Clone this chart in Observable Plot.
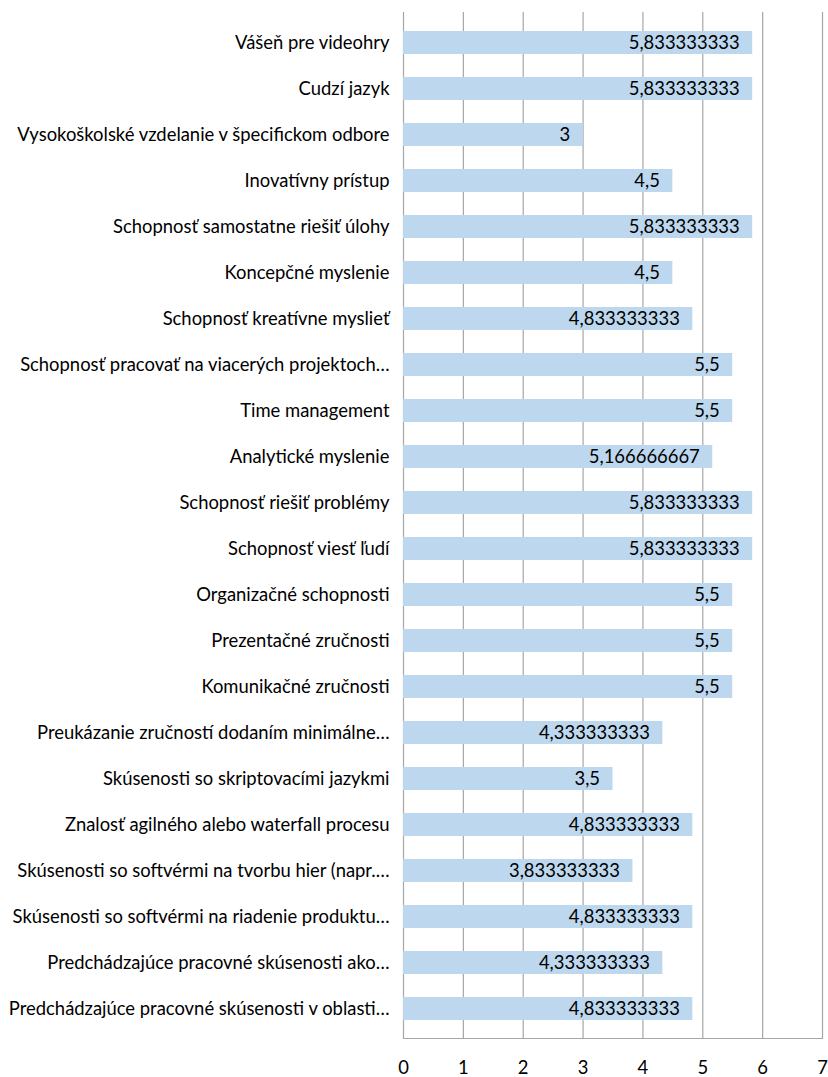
<!DOCTYPE html>
<html>
<head>
<meta charset="utf-8">
<script src="https://cdn.jsdelivr.net/npm/d3@7"></script>
<script src="https://cdn.jsdelivr.net/npm/@observablehq/plot@0.6"></script>
<style>
  html, body { margin: 0; padding: 0; background: #fff; }
  #chart svg { display: block; overflow: visible; }
</style>
</head>
<body>
<div id="chart"></div>
<script>
const categories = [
  "Vášeň pre videohry",
  "Cudzí jazyk",
  "Vysokoškolské vzdelanie v špecifickom odbore",
  "Inovatívny prístup",
  "Schopnosť samostatne riešiť úlohy",
  "Koncepčné myslenie",
  "Schopnosť kreatívne myslieť",
  "Schopnosť pracovať na viacerých projektoch…",
  "Time management",
  "Analytické myslenie",
  "Schopnosť riešiť problémy",
  "Schopnosť viesť ľudí",
  "Organizačné schopnosti",
  "Prezentačné zručnosti",
  "Komunikačné zručnosti",
  "Preukázanie zručností dodaním minimálne…",
  "Skúsenosti so skriptovacími jazykmi",
  "Znalosť agilného alebo waterfall procesu",
  "Skúsenosti so softvérmi na tvorbu hier (napr.…",
  "Skúsenosti so softvérmi na riadenie produktu…",
  "Predchádzajúce pracovné skúsenosti ako…",
  "Predchádzajúce pracovné skúsenosti v oblasti…"
];
const values = [
  5.833333333, 5.833333333, 3, 4.5, 5.833333333, 4.5, 4.833333333, 5.5, 5.5,
  5.166666667, 5.833333333, 5.833333333, 5.5, 5.5, 5.5, 4.333333333, 3.5,
  4.833333333, 3.833333333, 4.833333333, 4.333333333, 4.833333333
];
const valueLabels = [
  "5,833333333", "5,833333333", "3", "4,5", "5,833333333", "4,5", "4,833333333",
  "5,5", "5,5", "5,166666667", "5,833333333", "5,833333333", "5,5", "5,5", "5,5",
  "4,333333333", "3,5", "4,833333333", "3,833333333", "4,833333333",
  "4,333333333", "4,833333333"
];
const xTicks = [0, 1, 2, 3, 4, 5, 6, 7];

const data = categories.map((c, i) => ({category: c, value: values[i], label: valueLabels[i]}));

const fontFamily = "Lato, 'Open Sans', sans-serif";
// fit font size so the longest category label spans about the same width as in the reference
const ctx = document.createElement("canvas").getContext("2d");
ctx.font = `18px ${fontFamily}`;
const longest = d3.max(categories, c => ctx.measureText(c).width);
const fontSize = Math.min(18.7, 18 * 382 / longest);

const grid = "#a6a6a6";
const chart = Plot.plot({
  width: 828,
  height: 1077,
  marginLeft: 403,
  marginRight: 6,
  marginTop: 12,
  marginBottom: 39,
  style: {fontFamily, fontSize: fontSize + "px", color: "#000", background: "#fff"},
  x: {domain: [0, 7], ticks: xTicks, label: null},
  y: {domain: categories, paddingInner: 0.51, paddingOuter: 0.255, label: null},
  marks: [
    Plot.gridX(xTicks, {stroke: grid, strokeOpacity: 1, strokeWidth: 1.2}),
    Plot.barX(data, {y: "category", x: "value", fill: "#bdd7ee"}),
    Plot.text(data, {y: "category", x: "value", text: "label", textAnchor: "end", dx: -13, fill: "#000"}),
    Plot.frame({anchor: "bottom", stroke: grid, strokeWidth: 1.2}),
    Plot.axisX(xTicks, {tickSize: 0, tickPadding: 22, fontSize: fontSize + "px"}),
    Plot.axisY({tickSize: 0, tickPadding: 14, fontSize: fontSize + "px"})
  ]
});
document.getElementById("chart").appendChild(chart);
</script>
</body>
</html>
